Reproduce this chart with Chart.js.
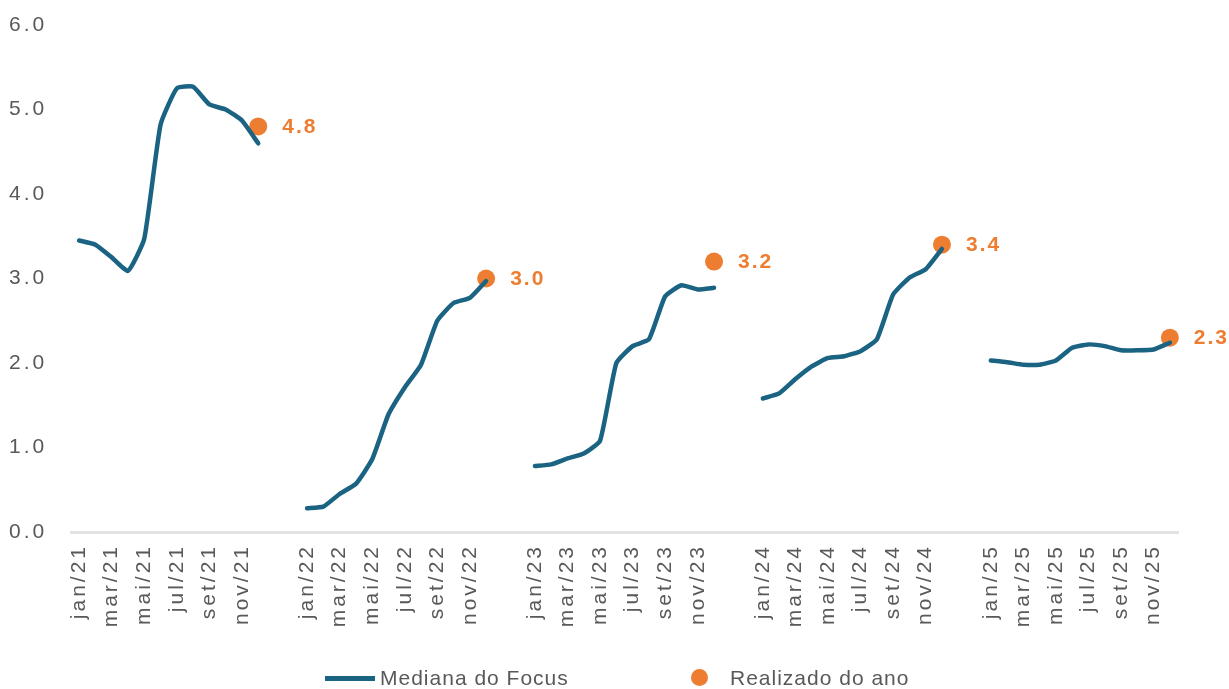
<!DOCTYPE html>
<html>
<head>
<meta charset="utf-8">
<script src="https://cdn.jsdelivr.net/npm/chart.js@4.4.1/dist/chart.umd.min.js"></script>
<style>
  html, body { margin: 0; padding: 0; background: #fff; }
  #wrap { position: relative; width: 1229px; height: 689px; }
  #legend { position: absolute; left: 0; top: 664px; width: 1229px; height: 28px;
    font: 21px 'Liberation Sans', Arial, sans-serif; letter-spacing: 1px; color: #595959; }
  #legend span, #legend i { position: absolute; }
</style>
</head>
<body>
<div id="wrap">
  <canvas id="myChart" width="1229" height="689"></canvas>
  <div id="legend"></div>
</div>
<script>
// Mediana do Focus, jan..dez of each year
var years = ['21', '22', '23', '24', '25'];
var months = ['jan', 'fev', 'mar', 'abr', 'mai', 'jun', 'jul', 'ago', 'set', 'out', 'nov', 'dez'];
var tickMonths = ['jan', 'mar', 'mai', 'jul', 'set', 'nov'];
var focus21 = [3.45, 3.40, 3.25, 3.09, 3.47, 4.82, 5.25, 5.27, 5.06, 5.00, 4.87, 4.60];
var focus22 = [0.28, 0.30, 0.45, 0.57, 0.86, 1.39, 1.71, 1.98, 2.50, 2.71, 2.77, 2.97];
var focus23 = [0.78, 0.80, 0.87, 0.93, 1.08, 2.00, 2.20, 2.28, 2.79, 2.92, 2.87, 2.89];
var focus24 = [1.58, 1.64, 1.81, 1.96, 2.06, 2.08, 2.14, 2.28, 2.81, 3.01, 3.11, 3.35];
var focus25 = [2.03, 2.01, 1.98, 1.98, 2.03, 2.18, 2.22, 2.20, 2.15, 2.15, 2.16, 2.24];
var realized = [4.8, 3.0, 3.2, 3.4, 2.3];
var seriesNames = ['Mediana do Focus', 'Realizado do ano'];

var lineColor = '#1b6383';
var orange = '#ed7d31';
var gray = '#595959';
var fontFamily = "'Liberation Sans', Arial, sans-serif";

// build category axis: 12 months per year, 2 empty slots between years
var focusByYear = [focus21, focus22, focus23, focus24, focus25];
var categories = [];
var tickLabels = [];
var focusData = [];
var realizedData = [];
years.forEach(function (yr, y) {
  if (y > 0) {
    for (var g = 0; g < 2; g++) {
      categories.push('');
      tickLabels.push('');
      focusData.push(null);
      realizedData.push(null);
    }
  }
  months.forEach(function (m, i) {
    var lab = m + '/' + yr;
    categories.push(lab);
    tickLabels.push(tickMonths.indexOf(m) >= 0 ? lab : '');
    focusData.push(focusByYear[y][i]);
    realizedData.push(i === 11 ? realized[y] : null);
  });
});

// wider letter spacing like the original
var spacing = {
  id: 'spacing',
  beforeUpdate: function (chart) { chart.ctx.letterSpacing = '3px'; },
  beforeDraw: function (chart) { chart.ctx.letterSpacing = '3px'; }
};

// value labels next to the orange dots
var dotLabels = {
  id: 'dotLabels',
  afterDatasetsDraw: function (chart) {
    var c = chart.ctx;
    var meta = chart.getDatasetMeta(1);
    c.save();
    c.letterSpacing = '2px';
    c.fillStyle = orange;
    c.font = 'bold 21px ' + fontFamily;
    c.textAlign = 'left';
    c.textBaseline = 'middle';
    meta.data.forEach(function (pt, i) {
      var v = chart.data.datasets[1].data[i];
      if (v === null) return;
      c.fillText(v.toFixed(1), pt.x + 24, pt.y + 1);
    });
    c.restore();
  }
};

new Chart('myChart', {
  type: 'line',
  data: {
    labels: categories,
    datasets: [{
      label: seriesNames[0],
      data: focusData,
      borderColor: lineColor,
      backgroundColor: lineColor,
      borderWidth: 4.5,
      pointRadius: 0,
      tension: 0.15,
      spanGaps: false,
      borderCapStyle: 'round',
      borderJoinStyle: 'round'
    }, {
      label: seriesNames[1],
      data: realizedData,
      showLine: false,
      pointRadius: 9,
      pointBackgroundColor: orange,
      pointBorderColor: orange,
      pointBorderWidth: 0
    }]
  },
  options: {
    responsive: false,
    animation: false,
    layout: { padding: { top: 25, right: 51, bottom: 40, left: 9 } },
    plugins: {
      legend: { display: false },
      tooltip: { enabled: false }
    },
    scales: {
      x: {
        offset: true,
        grid: { display: false, drawTicks: false },
        border: { display: true, color: '#e3e3e3', width: 3 },
        ticks: {
          autoSkip: false,
          maxRotation: 90,
          minRotation: 90,
          padding: 12,
          color: gray,
          font: { family: fontFamily, size: 21 },
          callback: function (v, i) { return tickLabels[i]; }
        },
        afterFit: function (s) { s.height = 117; }
      },
      y: {
        min: 0,
        max: 6,
        grid: { display: false, drawTicks: false },
        border: { display: false },
        ticks: {
          stepSize: 1,
          padding: 0,
          crossAlign: 'far',
          color: gray,
          font: { family: fontFamily, size: 21 },
          callback: function (v) { return v.toFixed(1); }
        },
        afterFit: function (s) { s.width = 62; }
      }
    }
  },
  plugins: [spacing, dotLabels]
});

// legend under the chart
var leg = document.getElementById('legend');
leg.innerHTML =
  '<i style="left:325px;top:12px;width:50px;height:4.5px;background:' + lineColor + '"></i>' +
  '<span style="left:380px;top:0;line-height:28px">' + seriesNames[0] + '</span>' +
  '<i style="left:691px;top:5px;width:17px;height:17px;border-radius:50%;background:' + orange + '"></i>' +
  '<span style="left:730px;top:0;line-height:28px">' + seriesNames[1] + '</span>';
</script>
</body>
</html>
